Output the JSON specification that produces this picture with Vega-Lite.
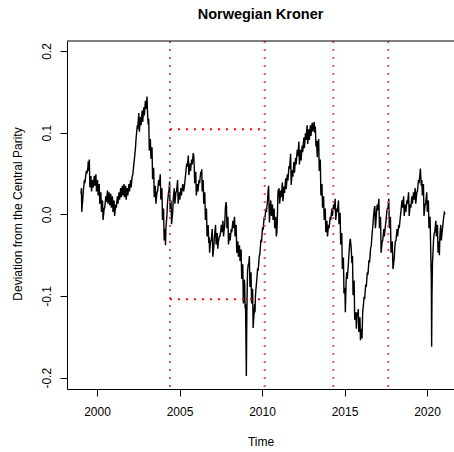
{
  "$schema": "https://vega.github.io/schema/vega-lite/v6.json",
  "autosize": "none",
  "padding": {"left": 67, "top": 41, "right": 0, "bottom": 63},
  "width": 387,
  "height": 348,
  "background": "white",
  "title": {"text": "Norwegian Kroner", "fontSize": 14.5, "fontWeight": "bold", "font": "Liberation Sans", "anchor": "middle", "frame": "group", "baseline": "alphabetic", "offset": 7, "color": "black"},
  "config": {
    "view": {"stroke": null},
    "font": "Liberation Sans",
    "axis": {"grid": false, "domainColor": "black", "tickColor": "black", "labelColor": "black", "titleColor": "black", "labelFont": "Liberation Sans", "titleFont": "Liberation Sans", "labelFontSize": 12, "titleFontSize": 12, "titleFontWeight": "normal", "tickSize": 7, "domainWidth": 1, "tickWidth": 1}
  },
  "layer": [
    {
      "data": {"values": [
{"t":1999.03,"v":0.025},{"t":1999.053,"v":0.032},{"t":1999.077,"v":0.003},
{"t":1999.10,"v":0.010},{"t":1999.133,"v":0.017},{"t":1999.167,"v":0.028},
{"t":1999.20,"v":0.035},{"t":1999.233,"v":0.042},{"t":1999.267,"v":0.038},
{"t":1999.30,"v":0.045},{"t":1999.35,"v":0.052},{"t":1999.40,"v":0.051},
{"t":1999.45,"v":0.058},{"t":1999.467,"v":0.065},{"t":1999.483,"v":0.053},
{"t":1999.50,"v":0.060},{"t":1999.533,"v":0.067},{"t":1999.567,"v":0.033},
{"t":1999.60,"v":0.040},{"t":1999.633,"v":0.047},{"t":1999.667,"v":0.028},
{"t":1999.70,"v":0.035},{"t":1999.733,"v":0.042},{"t":1999.767,"v":0.033},
{"t":1999.80,"v":0.040},{"t":1999.833,"v":0.047},{"t":1999.867,"v":0.035},
{"t":1999.90,"v":0.042},{"t":1999.933,"v":0.049},{"t":1999.967,"v":0.028},
{"t":2000.00,"v":0.035},{"t":2000.033,"v":0.042},{"t":2000.067,"v":0.023},
{"t":2000.10,"v":0.030},{"t":2000.133,"v":0.037},{"t":2000.167,"v":0.013},
{"t":2000.20,"v":0.020},{"t":2000.233,"v":0.027},{"t":2000.267,"v":0.003},
{"t":2000.30,"v":0.010},{"t":2000.333,"v":0.017},{"t":2000.367,"v":-0.007},
{"t":2000.40,"v":0.000},{"t":2000.433,"v":0.007},{"t":2000.467,"v":0.008},
{"t":2000.50,"v":0.015},{"t":2000.533,"v":0.022},{"t":2000.567,"v":0.015},
{"t":2000.60,"v":0.022},{"t":2000.633,"v":0.029},{"t":2000.667,"v":0.013},
{"t":2000.70,"v":0.020},{"t":2000.733,"v":0.027},{"t":2000.767,"v":0.011},
{"t":2000.80,"v":0.018},{"t":2000.833,"v":0.025},{"t":2000.867,"v":0.008},
{"t":2000.90,"v":0.015},{"t":2000.933,"v":0.022},{"t":2000.967,"v":0.003},
{"t":2001.00,"v":0.010},{"t":2001.033,"v":0.017},{"t":2001.067,"v":-0.002},
{"t":2001.10,"v":0.005},{"t":2001.133,"v":0.012},{"t":2001.167,"v":0.008},
{"t":2001.20,"v":0.015},{"t":2001.233,"v":0.022},{"t":2001.267,"v":0.013},
{"t":2001.30,"v":0.020},{"t":2001.333,"v":0.027},{"t":2001.367,"v":0.018},
{"t":2001.40,"v":0.025},{"t":2001.433,"v":0.032},{"t":2001.467,"v":0.021},
{"t":2001.50,"v":0.028},{"t":2001.533,"v":0.035},{"t":2001.567,"v":0.023},
{"t":2001.60,"v":0.030},{"t":2001.633,"v":0.037},{"t":2001.667,"v":0.021},
{"t":2001.70,"v":0.028},{"t":2001.733,"v":0.035},{"t":2001.767,"v":0.018},
{"t":2001.80,"v":0.025},{"t":2001.833,"v":0.032},{"t":2001.867,"v":0.023},
{"t":2001.90,"v":0.030},{"t":2001.933,"v":0.037},{"t":2001.967,"v":0.028},
{"t":2002.00,"v":0.035},{"t":2002.033,"v":0.042},{"t":2002.067,"v":0.033},
{"t":2002.10,"v":0.040},{"t":2002.133,"v":0.047},{"t":2002.167,"v":0.048},
{"t":2002.20,"v":0.055},{"t":2002.233,"v":0.062},{"t":2002.267,"v":0.068},
{"t":2002.30,"v":0.075},{"t":2002.333,"v":0.082},{"t":2002.367,"v":0.093},
{"t":2002.40,"v":0.100},{"t":2002.433,"v":0.107},{"t":2002.467,"v":0.106},
{"t":2002.50,"v":0.115},{"t":2002.533,"v":0.124},{"t":2002.567,"v":0.101},
{"t":2002.60,"v":0.110},{"t":2002.633,"v":0.119},{"t":2002.667,"v":0.109},
{"t":2002.70,"v":0.118},{"t":2002.733,"v":0.127},{"t":2002.767,"v":0.113},
{"t":2002.80,"v":0.122},{"t":2002.833,"v":0.131},{"t":2002.867,"v":0.121},
{"t":2002.90,"v":0.130},{"t":2002.933,"v":0.139},{"t":2002.967,"v":0.129},
{"t":2003.00,"v":0.138},{"t":2003.015,"v":0.140},
{"t":2003.03,"v":0.144},{"t":2003.053,"v":0.128},{"t":2003.077,"v":0.118},
{"t":2003.10,"v":0.110},{"t":2003.133,"v":0.117},{"t":2003.167,"v":0.078},
{"t":2003.20,"v":0.085},{"t":2003.233,"v":0.092},{"t":2003.267,"v":0.068},
{"t":2003.30,"v":0.075},{"t":2003.333,"v":0.082},{"t":2003.367,"v":0.043},
{"t":2003.40,"v":0.050},{"t":2003.433,"v":0.057},{"t":2003.467,"v":0.021},
{"t":2003.50,"v":0.028},{"t":2003.533,"v":0.035},{"t":2003.567,"v":0.013},
{"t":2003.60,"v":0.020},{"t":2003.633,"v":0.027},{"t":2003.667,"v":0.028},
{"t":2003.70,"v":0.035},{"t":2003.733,"v":0.042},{"t":2003.767,"v":0.035},
{"t":2003.80,"v":0.042},{"t":2003.833,"v":0.049},{"t":2003.867,"v":0.018},
{"t":2003.90,"v":0.025},{"t":2003.933,"v":0.032},{"t":2003.967,"v":-0.007},
{"t":2004.00,"v":0.000},{"t":2004.033,"v":0.007},{"t":2004.067,"v":-0.032},
{"t":2004.10,"v":-0.025},{"t":2004.125,"v":-0.018},
{"t":2004.15,"v":-0.038},{"t":2004.175,"v":-0.017},
{"t":2004.20,"v":-0.010},{"t":2004.233,"v":-0.003},{"t":2004.267,"v":0.013},
{"t":2004.30,"v":0.020},{"t":2004.333,"v":0.027},{"t":2004.357,"v":0.028},
{"t":2004.38,"v":0.035},{"t":2004.40,"v":0.040},{"t":2004.43,"v":0.003},
{"t":2004.45,"v":0.010},{"t":2004.483,"v":0.017},{"t":2004.517,"v":-0.012},
{"t":2004.55,"v":-0.005},{"t":2004.583,"v":0.002},{"t":2004.617,"v":0.018},
{"t":2004.65,"v":0.025},{"t":2004.683,"v":0.032},{"t":2004.717,"v":0.013},
{"t":2004.75,"v":0.020},{"t":2004.783,"v":0.027},{"t":2004.817,"v":0.028},
{"t":2004.85,"v":0.035},{"t":2004.883,"v":0.042},{"t":2004.917,"v":0.013},
{"t":2004.95,"v":0.020},{"t":2004.983,"v":0.027},{"t":2005.017,"v":0.018},
{"t":2005.05,"v":0.025},{"t":2005.083,"v":0.032},{"t":2005.117,"v":0.023},
{"t":2005.15,"v":0.030},{"t":2005.20,"v":0.037},{"t":2005.25,"v":0.028},
{"t":2005.30,"v":0.035},{"t":2005.333,"v":0.042},{"t":2005.367,"v":0.048},
{"t":2005.40,"v":0.055},{"t":2005.433,"v":0.062},{"t":2005.467,"v":0.058},
{"t":2005.50,"v":0.065},{"t":2005.533,"v":0.072},{"t":2005.567,"v":0.048},
{"t":2005.60,"v":0.055},{"t":2005.633,"v":0.062},{"t":2005.667,"v":0.053},
{"t":2005.70,"v":0.060},{"t":2005.733,"v":0.067},{"t":2005.767,"v":0.061},
{"t":2005.80,"v":0.068},{"t":2005.83,"v":0.075},
{"t":2005.86,"v":0.072},{"t":2005.89,"v":0.060},{"t":2005.92,"v":0.038},
{"t":2005.95,"v":0.045},{"t":2005.983,"v":0.052},{"t":2006.017,"v":0.023},
{"t":2006.05,"v":0.030},{"t":2006.083,"v":0.037},{"t":2006.117,"v":0.028},
{"t":2006.15,"v":0.035},{"t":2006.183,"v":0.042},{"t":2006.217,"v":0.038},
{"t":2006.25,"v":0.045},{"t":2006.285,"v":0.052},
{"t":2006.32,"v":0.048},{"t":2006.347,"v":0.055},{"t":2006.373,"v":0.028},
{"t":2006.40,"v":0.035},{"t":2006.433,"v":0.042},{"t":2006.467,"v":0.013},
{"t":2006.50,"v":0.020},{"t":2006.533,"v":0.027},{"t":2006.567,"v":-0.007},
{"t":2006.60,"v":0.000},{"t":2006.633,"v":0.007},{"t":2006.667,"v":-0.027},
{"t":2006.70,"v":-0.020},{"t":2006.735,"v":-0.013},
{"t":2006.77,"v":-0.035},{"t":2006.797,"v":-0.028},{"t":2006.823,"v":-0.047},
{"t":2006.85,"v":-0.040},{"t":2006.883,"v":-0.033},{"t":2006.917,"v":-0.032},
{"t":2006.95,"v":-0.025},{"t":2006.983,"v":-0.018},{"t":2007.017,"v":-0.052},
{"t":2007.05,"v":-0.045},{"t":2007.083,"v":-0.038},{"t":2007.117,"v":-0.027},
{"t":2007.15,"v":-0.020},{"t":2007.183,"v":-0.013},{"t":2007.217,"v":-0.037},
{"t":2007.25,"v":-0.030},{"t":2007.283,"v":-0.023},{"t":2007.317,"v":-0.042},
{"t":2007.35,"v":-0.035},{"t":2007.40,"v":-0.028},{"t":2007.45,"v":-0.027},
{"t":2007.50,"v":-0.020},{"t":2007.533,"v":-0.013},{"t":2007.567,"v":-0.022},
{"t":2007.60,"v":-0.015},{"t":2007.633,"v":-0.008},{"t":2007.667,"v":-0.027},
{"t":2007.70,"v":-0.020},{"t":2007.74,"v":-0.013},{"t":2007.78,"v":0.008},
{"t":2007.82,"v":0.015},{"t":2007.847,"v":0.010},{"t":2007.873,"v":-0.017},
{"t":2007.90,"v":-0.010},{"t":2007.933,"v":-0.003},{"t":2007.967,"v":-0.037},
{"t":2008.00,"v":-0.030},{"t":2008.033,"v":-0.023},{"t":2008.067,"v":-0.032},
{"t":2008.10,"v":-0.025},{"t":2008.133,"v":-0.018},{"t":2008.167,"v":-0.022},
{"t":2008.20,"v":-0.015},{"t":2008.233,"v":-0.008},{"t":2008.267,"v":-0.017},
{"t":2008.30,"v":-0.010},{"t":2008.333,"v":-0.003},{"t":2008.367,"v":-0.027},
{"t":2008.40,"v":-0.020},{"t":2008.433,"v":-0.013},{"t":2008.467,"v":-0.047},
{"t":2008.50,"v":-0.040},{"t":2008.533,"v":-0.033},{"t":2008.567,"v":-0.052},
{"t":2008.60,"v":-0.045},{"t":2008.633,"v":-0.038},{"t":2008.667,"v":-0.057},
{"t":2008.70,"v":-0.050},{"t":2008.733,"v":-0.043},{"t":2008.767,"v":-0.079},
{"t":2008.80,"v":-0.070},{"t":2008.833,"v":-0.061},{"t":2008.867,"v":-0.109},
{"t":2008.90,"v":-0.100},{"t":2008.925,"v":-0.080},
{"t":2008.95,"v":-0.085},{"t":2008.975,"v":-0.115},
{"t":2009.00,"v":-0.110},
{"t":2009.05,"v":-0.198},
{"t":2009.08,"v":-0.120},
{"t":2009.12,"v":-0.070},{"t":2009.16,"v":-0.062},
{"t":2009.20,"v":-0.060},{"t":2009.233,"v":-0.051},{"t":2009.267,"v":-0.089},
{"t":2009.30,"v":-0.080},{"t":2009.333,"v":-0.071},{"t":2009.367,"v":-0.109},
{"t":2009.40,"v":-0.100},{"t":2009.43,"v":-0.091},{"t":2009.46,"v":-0.139},
{"t":2009.49,"v":-0.130},{"t":2009.52,"v":-0.121},
{"t":2009.55,"v":-0.110},{"t":2009.575,"v":-0.120},
{"t":2009.60,"v":-0.100},{"t":2009.633,"v":-0.091},{"t":2009.667,"v":-0.084},
{"t":2009.70,"v":-0.075},{"t":2009.733,"v":-0.066},{"t":2009.767,"v":-0.069},
{"t":2009.80,"v":-0.060},{"t":2009.833,"v":-0.051},{"t":2009.867,"v":-0.049},
{"t":2009.90,"v":-0.040},{"t":2009.933,"v":-0.031},{"t":2009.967,"v":-0.034},
{"t":2010.00,"v":-0.025},{"t":2010.033,"v":-0.016},{"t":2010.067,"v":-0.019},
{"t":2010.10,"v":-0.010},{"t":2010.133,"v":-0.003},{"t":2010.167,"v":-0.007},
{"t":2010.20,"v":0.000},{"t":2010.233,"v":0.007},{"t":2010.267,"v":0.003},
{"t":2010.30,"v":0.010},{"t":2010.333,"v":0.017},{"t":2010.367,"v":0.028},
{"t":2010.40,"v":0.035},{"t":2010.425,"v":0.010},
{"t":2010.45,"v":-0.010},{"t":2010.475,"v":0.003},
{"t":2010.50,"v":0.010},{"t":2010.533,"v":0.017},{"t":2010.567,"v":-0.002},
{"t":2010.60,"v":0.005},{"t":2010.633,"v":0.012},{"t":2010.667,"v":-0.007},
{"t":2010.70,"v":0.000},{"t":2010.733,"v":0.007},{"t":2010.767,"v":-0.017},
{"t":2010.80,"v":-0.010},{"t":2010.833,"v":-0.003},{"t":2010.867,"v":-0.027},
{"t":2010.90,"v":-0.022},{"t":2010.925,"v":-0.010},
{"t":2010.95,"v":0.015},{"t":2010.975,"v":0.030},
{"t":2011.00,"v":0.025},{"t":2011.033,"v":0.032},{"t":2011.067,"v":0.013},
{"t":2011.10,"v":0.020},{"t":2011.133,"v":0.029},{"t":2011.167,"v":0.021},
{"t":2011.20,"v":0.030},{"t":2011.233,"v":0.039},{"t":2011.267,"v":0.016},
{"t":2011.30,"v":0.025},{"t":2011.333,"v":0.034},{"t":2011.367,"v":0.026},
{"t":2011.40,"v":0.035},{"t":2011.433,"v":0.044},{"t":2011.467,"v":0.031},
{"t":2011.50,"v":0.040},{"t":2011.533,"v":0.049},{"t":2011.567,"v":0.041},
{"t":2011.60,"v":0.050},{"t":2011.633,"v":0.059},{"t":2011.667,"v":0.056},
{"t":2011.70,"v":0.065},{"t":2011.733,"v":0.074},{"t":2011.767,"v":0.036},
{"t":2011.80,"v":0.045},{"t":2011.833,"v":0.054},{"t":2011.867,"v":0.046},
{"t":2011.90,"v":0.055},{"t":2011.933,"v":0.064},{"t":2011.967,"v":0.051},
{"t":2012.00,"v":0.060},{"t":2012.033,"v":0.069},{"t":2012.067,"v":0.061},
{"t":2012.10,"v":0.070},{"t":2012.133,"v":0.079},{"t":2012.167,"v":0.071},
{"t":2012.20,"v":0.080},{"t":2012.233,"v":0.089},{"t":2012.267,"v":0.061},
{"t":2012.30,"v":0.070},{"t":2012.333,"v":0.079},{"t":2012.367,"v":0.066},
{"t":2012.40,"v":0.075},{"t":2012.433,"v":0.084},{"t":2012.467,"v":0.076},
{"t":2012.50,"v":0.085},{"t":2012.533,"v":0.094},{"t":2012.567,"v":0.081},
{"t":2012.60,"v":0.090},{"t":2012.633,"v":0.099},{"t":2012.667,"v":0.091},
{"t":2012.70,"v":0.100},{"t":2012.733,"v":0.109},{"t":2012.767,"v":0.086},
{"t":2012.80,"v":0.095},{"t":2012.833,"v":0.104},{"t":2012.867,"v":0.091},
{"t":2012.90,"v":0.100},{"t":2012.933,"v":0.109},{"t":2012.967,"v":0.096},
{"t":2013.00,"v":0.105},{"t":2013.043,"v":0.112},{"t":2013.087,"v":0.101},
{"t":2013.13,"v":0.110},{"t":2013.165,"v":0.113},
{"t":2013.20,"v":0.100},{"t":2013.233,"v":0.107},{"t":2013.267,"v":0.083},
{"t":2013.30,"v":0.090},{"t":2013.325,"v":0.080},
{"t":2013.35,"v":0.070},{"t":2013.375,"v":0.090},
{"t":2013.40,"v":0.085},{"t":2013.433,"v":0.092},{"t":2013.467,"v":0.053},
{"t":2013.50,"v":0.060},{"t":2013.533,"v":0.067},{"t":2013.567,"v":0.023},
{"t":2013.60,"v":0.030},{"t":2013.633,"v":0.037},{"t":2013.667,"v":0.008},
{"t":2013.70,"v":0.015},{"t":2013.733,"v":0.022},{"t":2013.767,"v":-0.007},
{"t":2013.80,"v":0.000},{"t":2013.833,"v":0.007},{"t":2013.867,"v":-0.022},
{"t":2013.90,"v":-0.015},{"t":2013.933,"v":-0.008},{"t":2013.967,"v":-0.027},
{"t":2014.00,"v":-0.020},{"t":2014.033,"v":-0.013},{"t":2014.067,"v":-0.017},
{"t":2014.10,"v":-0.010},{"t":2014.133,"v":-0.003},{"t":2014.167,"v":-0.007},
{"t":2014.20,"v":0.000},{"t":2014.233,"v":0.007},{"t":2014.267,"v":-0.002},
{"t":2014.30,"v":0.005},{"t":2014.333,"v":0.012},{"t":2014.367,"v":0.005},
{"t":2014.40,"v":0.012},{"t":2014.433,"v":0.019},{"t":2014.467,"v":-0.007},
{"t":2014.50,"v":0.000},{"t":2014.533,"v":0.007},{"t":2014.567,"v":0.003},
{"t":2014.60,"v":0.010},{"t":2014.633,"v":0.017},{"t":2014.667,"v":-0.012},
{"t":2014.70,"v":-0.005},{"t":2014.733,"v":0.002},{"t":2014.767,"v":-0.037},
{"t":2014.80,"v":-0.030},{"t":2014.833,"v":-0.023},{"t":2014.867,"v":-0.067},
{"t":2014.90,"v":-0.060},{"t":2014.933,"v":-0.053},{"t":2014.967,"v":-0.097},
{"t":2015.00,"v":-0.090},{"t":2015.025,"v":-0.095},
{"t":2015.05,"v":-0.120},{"t":2015.075,"v":-0.100},
{"t":2015.10,"v":-0.080},{"t":2015.133,"v":-0.071},{"t":2015.167,"v":-0.079},
{"t":2015.20,"v":-0.070},{"t":2015.233,"v":-0.061},{"t":2015.267,"v":-0.049},
{"t":2015.30,"v":-0.040},{"t":2015.325,"v":-0.033},
{"t":2015.35,"v":-0.030},{"t":2015.40,"v":-0.040},
{"t":2015.45,"v":-0.060},{"t":2015.483,"v":-0.051},{"t":2015.517,"v":-0.099},
{"t":2015.55,"v":-0.090},{"t":2015.583,"v":-0.081},{"t":2015.617,"v":-0.129},
{"t":2015.65,"v":-0.120},{"t":2015.685,"v":-0.122},
{"t":2015.72,"v":-0.140},{"t":2015.76,"v":-0.120},
{"t":2015.80,"v":-0.125},{"t":2015.833,"v":-0.116},{"t":2015.867,"v":-0.144},
{"t":2015.90,"v":-0.135},{"t":2015.933,"v":-0.126},{"t":2015.967,"v":-0.154},
{"t":2016.00,"v":-0.145},{"t":2016.03,"v":-0.140},
{"t":2016.06,"v":-0.152},{"t":2016.10,"v":-0.120},
{"t":2016.15,"v":-0.110},{"t":2016.183,"v":-0.101},{"t":2016.217,"v":-0.104},
{"t":2016.25,"v":-0.095},{"t":2016.283,"v":-0.086},{"t":2016.317,"v":-0.089},
{"t":2016.35,"v":-0.080},{"t":2016.383,"v":-0.071},{"t":2016.417,"v":-0.074},
{"t":2016.45,"v":-0.065},{"t":2016.483,"v":-0.056},{"t":2016.517,"v":-0.059},
{"t":2016.55,"v":-0.050},{"t":2016.583,"v":-0.041},{"t":2016.617,"v":-0.039},
{"t":2016.65,"v":-0.030},{"t":2016.683,"v":-0.021},{"t":2016.717,"v":-0.014},
{"t":2016.75,"v":-0.005},{"t":2016.78,"v":0.002},
{"t":2016.81,"v":0.008},{"t":2016.84,"v":0.010},{"t":2016.87,"v":-0.017},
{"t":2016.90,"v":-0.010},{"t":2016.925,"v":-0.002},
{"t":2016.95,"v":0.005},{"t":2016.983,"v":0.012},{"t":2017.017,"v":0.005},
{"t":2017.05,"v":0.012},{"t":2017.083,"v":0.019},{"t":2017.117,"v":-0.017},
{"t":2017.15,"v":-0.010},{"t":2017.183,"v":-0.003},{"t":2017.217,"v":-0.047},
{"t":2017.25,"v":-0.040},{"t":2017.283,"v":-0.033},{"t":2017.317,"v":-0.032},
{"t":2017.35,"v":-0.025},{"t":2017.383,"v":-0.018},{"t":2017.417,"v":-0.027},
{"t":2017.45,"v":-0.020},{"t":2017.483,"v":-0.013},{"t":2017.517,"v":-0.007},
{"t":2017.55,"v":0.000},{"t":2017.583,"v":0.007},{"t":2017.617,"v":0.005},
{"t":2017.65,"v":0.012},{"t":2017.683,"v":0.019},{"t":2017.717,"v":-0.017},
{"t":2017.75,"v":-0.010},{"t":2017.783,"v":-0.003},{"t":2017.817,"v":-0.047},
{"t":2017.85,"v":-0.040},{"t":2017.893,"v":-0.033},{"t":2017.937,"v":-0.067},
{"t":2017.98,"v":-0.060},{"t":2018.015,"v":-0.053},
{"t":2018.05,"v":-0.040},{"t":2018.083,"v":-0.033},{"t":2018.117,"v":-0.032},
{"t":2018.15,"v":-0.025},{"t":2018.183,"v":-0.018},{"t":2018.217,"v":-0.027},
{"t":2018.25,"v":-0.020},{"t":2018.283,"v":-0.013},{"t":2018.317,"v":-0.017},
{"t":2018.35,"v":-0.010},{"t":2018.383,"v":-0.003},{"t":2018.417,"v":0.003},
{"t":2018.45,"v":0.010},{"t":2018.483,"v":0.017},{"t":2018.517,"v":0.008},
{"t":2018.55,"v":0.015},{"t":2018.583,"v":0.022},{"t":2018.617,"v":-0.002},
{"t":2018.65,"v":0.005},{"t":2018.683,"v":0.012},{"t":2018.717,"v":0.003},
{"t":2018.75,"v":0.010},{"t":2018.783,"v":0.017},{"t":2018.817,"v":0.013},
{"t":2018.85,"v":0.020},{"t":2018.883,"v":0.027},{"t":2018.917,"v":-0.002},
{"t":2018.95,"v":0.005},{"t":2018.983,"v":0.012},{"t":2019.017,"v":0.008},
{"t":2019.05,"v":0.015},{"t":2019.083,"v":0.022},{"t":2019.117,"v":0.013},
{"t":2019.15,"v":0.020},{"t":2019.183,"v":0.027},{"t":2019.217,"v":0.018},
{"t":2019.25,"v":0.025},{"t":2019.283,"v":0.032},{"t":2019.317,"v":0.013},
{"t":2019.35,"v":0.020},{"t":2019.383,"v":0.027},{"t":2019.417,"v":0.028},
{"t":2019.45,"v":0.035},{"t":2019.483,"v":0.042},{"t":2019.517,"v":0.038},
{"t":2019.55,"v":0.045},{"t":2019.575,"v":0.050},
{"t":2019.60,"v":0.056},{"t":2019.625,"v":0.045},
{"t":2019.65,"v":0.035},{"t":2019.683,"v":0.042},{"t":2019.717,"v":0.023},
{"t":2019.75,"v":0.030},{"t":2019.783,"v":0.037},{"t":2019.817,"v":-0.002},
{"t":2019.85,"v":0.005},{"t":2019.883,"v":0.012},{"t":2019.917,"v":0.013},
{"t":2019.95,"v":0.020},{"t":2019.983,"v":0.027},{"t":2020.017,"v":0.003},
{"t":2020.05,"v":0.010},{"t":2020.083,"v":0.017},{"t":2020.117,"v":-0.017},
{"t":2020.15,"v":-0.010},{"t":2020.185,"v":-0.003},
{"t":2020.22,"v":-0.040},
{"t":2020.26,"v":-0.080},
{"t":2020.28,"v":-0.162},
{"t":2020.30,"v":-0.100},
{"t":2020.33,"v":-0.060},{"t":2020.365,"v":-0.045},
{"t":2020.40,"v":-0.030},{"t":2020.433,"v":-0.023},{"t":2020.467,"v":-0.022},
{"t":2020.50,"v":-0.015},{"t":2020.533,"v":-0.008},{"t":2020.567,"v":-0.027},
{"t":2020.60,"v":-0.020},{"t":2020.633,"v":-0.013},{"t":2020.667,"v":-0.047},
{"t":2020.70,"v":-0.040},{"t":2020.725,"v":-0.033},
{"t":2020.75,"v":-0.050},{"t":2020.775,"v":-0.030},
{"t":2020.80,"v":-0.020},{"t":2020.833,"v":-0.013},{"t":2020.867,"v":-0.032},
{"t":2020.90,"v":-0.025},{"t":2020.933,"v":-0.018},{"t":2020.967,"v":-0.012},
{"t":2021.00,"v":-0.005},{"t":2021.05,"v":0.002},
{"t":2021.10,"v":0.000}
      ]},
      "mark": {"type": "line", "color": "black", "strokeWidth": 1.4},
      "encoding": {
        "x": {"field": "t", "type": "quantitative", "scale": {"domain": [1998.18, 2021.635], "nice": false, "zero": false},
              "axis": {"orient": "bottom", "values": [2000, 2005, 2010, 2015, 2020], "format": "d", "labelPadding": 10, "titleY": 56, "titleBaseline": "alphabetic"},
              "title": "Time"},
        "y": {"field": "v", "type": "quantitative", "scale": {"domain": [-0.2138, 0.2121], "nice": false, "zero": false},
              "axis": {"orient": "left", "values": [-0.2, -0.1, 0, 0.1, 0.2], "labelExpr": "datum.value < -0.0001 ? '-' + format(-datum.value, '.1f') : format(abs(datum.value), '.1f')", "labelAngle": 270, "labelAlign": "center", "labelBaseline": "alphabetic", "labelPadding": 10, "titleX": -46, "titleY": 172.5, "titleAngle": 270, "titleAlign": "center", "titleBaseline": "alphabetic"},
              "title": "Deviation from the Central Parity"}
      }
    },
    {
      "data": {"values": [{"t": 2004.42}, {"t": 2010.16}, {"t": 2014.32}, {"t": 2017.65}]},
      "mark": {"type": "rule", "color": "#DF536B", "strokeWidth": 2, "strokeDash": [2, 6]},
      "encoding": {
        "x": {"field": "t", "type": "quantitative", "title": "Time", "scale": {"domain": [1998.18, 2021.635], "nice": false, "zero": false}}
      }
    },
    {
      "data": {"values": [{"t": 2004.42, "t2": 2010.16, "v": 0.104}, {"t": 2004.42, "t2": 2010.16, "v": -0.104}]},
      "mark": {"type": "rule", "color": "red", "strokeWidth": 2, "strokeDash": [2, 6]},
      "encoding": {
        "x": {"field": "t", "type": "quantitative", "title": "Time", "scale": {"domain": [1998.18, 2021.635], "nice": false, "zero": false}},
        "x2": {"field": "t2"},
        "y": {"field": "v", "type": "quantitative", "title": "Deviation from the Central Parity", "scale": {"domain": [-0.2138, 0.2121], "nice": false, "zero": false}}
      }
    },
    {
      "data": {"values": [{}]},
      "mark": {"type": "rule", "color": "black", "strokeWidth": 1},
      "encoding": {
        "y": {"datum": 0.2121, "type": "quantitative", "title": "Deviation from the Central Parity", "scale": {"domain": [-0.2138, 0.2121], "nice": false, "zero": false}}
      }
    }
  ]
}
